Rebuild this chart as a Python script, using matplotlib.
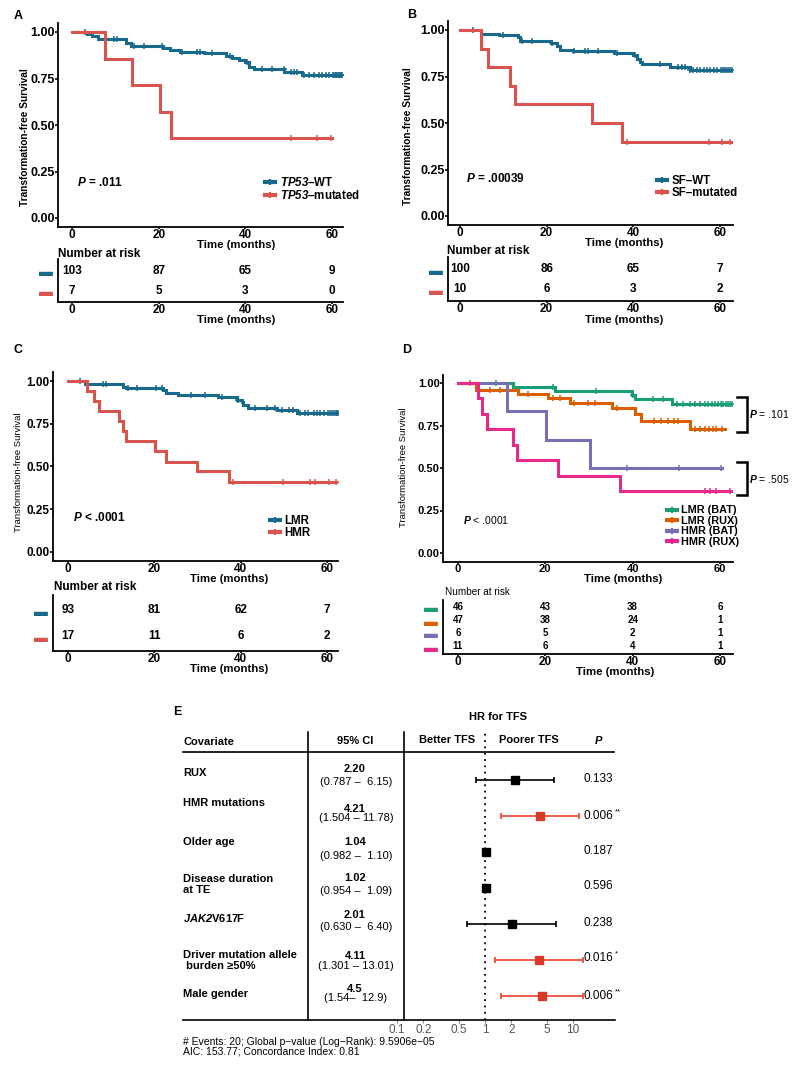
import numpy as np
import matplotlib
matplotlib.use("Agg")
import matplotlib.pyplot as plt
from matplotlib.lines import Line2D
import matplotlib.transforms as mtransforms

plt.rcParams['font.family'] = ['Liberation Sans', 'DejaVu Sans']
plt.rcParams['mathtext.fontset'] = 'custom'
plt.rcParams['mathtext.it'] = 'Liberation Sans:italic:bold'
plt.rcParams['mathtext.rm'] = 'Liberation Sans:italic:bold'
plt.rcParams['mathtext.bf'] = 'Liberation Sans:bold'

BLUE = '#19698C'
RED = '#D9534F'
D_COLS = ['#1B9E77', '#D95F02', '#7570B3', '#E7298A']

risk_times = [0, 20, 40, 60]

# ---- A: TP53 ----
a_wt_t = [0, 3.5, 4.5, 6.0, 12.5, 13.5, 21, 22.5, 25, 30.5, 35.5, 37, 38.5, 40, 40.8, 42, 49, 53]
a_wt_s = [1.0, 0.99, 0.98, 0.962, 0.94, 0.925, 0.913, 0.903, 0.894, 0.886, 0.871, 0.859, 0.85, 0.84, 0.814, 0.80, 0.787, 0.769]
a_wt_end = 62.5
a_wt_cens = [3.1, 9.6, 10.4, 14.2, 16.5, 20.8, 25.4, 28.8, 29.6, 32.3, 36.5, 40.4, 43.8, 46.2,
             48.8, 50.4, 51.2, 51.9, 53.5, 54.6, 55.8, 56.9, 57.7, 58.5, 59.2,
             60.2, 60.5, 60.8, 61, 61.3, 61.5, 61.8, 62, 62.3]
a_mut_t = [0, 7.5, 13.8, 20.2, 22.8]
a_mut_s = [1.0, 0.857, 0.714, 0.571, 0.429]
a_mut_end = 60.0
a_mut_cens = [50.4, 56.4, 59.8]
a_risk = [[103, 87, 65, 9], [7, 5, 3, 0]]

# ---- B: SF ----
b_wt_t = [0, 4.8, 9, 13.3, 13.8, 21, 22.3, 23, 26, 35.5, 40, 40.8, 41.5, 42, 48.5, 53]
b_wt_s = [1.0, 0.98, 0.972, 0.96, 0.94, 0.928, 0.915, 0.895, 0.885, 0.875, 0.865, 0.843, 0.83, 0.817, 0.803, 0.785]
b_wt_end = 63.0
b_wt_cens = [3.1, 10, 14.2, 16.5, 21.2, 26.2, 28.8, 29.6, 31.9, 36.2, 40.4, 46.2, 50.4, 51.2, 51.9,
             53.1, 53.8, 54.6, 55.4, 56.2, 57, 57.7, 58.5, 59.2,
             60.2, 60.6, 61, 61.4, 61.8, 62.3, 62.7]
b_mut_t = [0, 4.8, 6.4, 11.5, 12.8, 30.4, 37.3]
b_mut_s = [1.0, 0.9, 0.8, 0.7, 0.6, 0.5, 0.4]
b_mut_end = 62.5
b_mut_cens = [38.5, 57.5, 60.5, 62.3]
b_risk = [[100, 86, 65, 7], [10, 6, 3, 2]]

# ---- C: LMR / HMR ----
c_lmr_t = [0, 3.9, 12.8, 13.5, 22, 22.8, 25.5, 34.8, 39.1, 40.2, 40.6, 41.8, 48.4, 53]
c_lmr_s = [1.0, 0.98, 0.968, 0.957, 0.946, 0.932, 0.918, 0.904, 0.889, 0.875, 0.86, 0.845, 0.83, 0.814]
c_lmr_end = 62.7
c_lmr_cens = [2.7, 8.1, 8.9, 13.9, 15.9, 20.5, 21.7, 28.6, 31.7, 35.6, 39.5, 43.3, 46, 48, 49.5, 51.1,
              52.2, 53.8, 55, 55.7, 56.9, 57.7, 58.4, 59.2, 60.3, 60.8, 61.2, 61.6, 62, 62.3, 62.6]
c_hmr_t = [0, 4.5, 6, 7.2, 11.8, 12.8, 13.5, 20.1, 22.6, 30, 37.2]
c_hmr_s = [1.0, 0.941, 0.882, 0.824, 0.765, 0.706, 0.647, 0.588, 0.529, 0.471, 0.412]
c_hmr_end = 62.5
c_hmr_cens = [38.3, 49.9, 56.1, 57.3, 60.5, 62.2]
c_risk = [[93, 81, 62, 7], [17, 11, 6, 2]]

# ---- D: risk group x treatment ----
d_labels = ['LMR (BAT)', 'LMR (RUX)', 'HMR (BAT)', 'HMR (RUX)']
d_t = [[0, 12.6, 22.2, 39.8, 40.5, 48.9],
       [0, 4.2, 13.8, 20.6, 25.6, 35.2, 40.5, 42, 53.1],
       [0, 11.3, 20.2, 30.2],
       [0, 4.6, 5.4, 6.7, 12.6, 13.5, 22.9, 37.1]]
d_s = [[1.0, 0.978, 0.954, 0.928, 0.905, 0.877],
       [1.0, 0.957, 0.935, 0.91, 0.885, 0.855, 0.818, 0.778, 0.73],
       [1.0, 0.833, 0.667, 0.5],
       [1.0, 0.909, 0.818, 0.727, 0.636, 0.545, 0.455, 0.364]]
d_end = [63.0, 61.2, 60.4, 62.7]
d_cens = [[8.8, 21.8, 31.7, 40.1, 44.7, 47, 50.1, 51.6, 53.1, 54.3, 55.4, 56.6, 57.3, 58.1, 58.9, 59.6,
           60.3, 60.8, 61.3, 61.8, 62.3, 62.8],
          [2.7, 7.3, 9.6, 16, 21.8, 23.3, 26.5, 29.8, 31.3, 36.5, 45, 46.5, 48, 49.4, 50.3,
           54.3, 55.4, 56.5, 57.4, 58.3, 59.2, 60.5],
          [38.6, 50.5, 60.2],
          [56.6, 57.7, 59.2, 62.3]]
d_risk = [[46, 43, 38, 6], [47, 38, 24, 1], [6, 5, 2, 1], [11, 6, 4, 1]]

# ---- E: Cox model forest plot ----
covariates = ['RUX', 'HMR mutations', 'Older age', 'Disease duration\nat TE', r'$\mathit{JAK2}$V617F',
              'Driver mutation allele\n burden ≥50%', 'Male gender']
hr = [2.20, 4.21, 1.04, 1.02, 2.01, 4.11, 4.5]
ci_lo = [0.787, 1.504, 0.982, 0.954, 0.630, 1.301, 1.54]
ci_hi = [6.15, 11.78, 1.10, 1.09, 6.40, 13.01, 12.9]
hr_txt = ['2.20', '4.21', '1.04', '1.02', '2.01', '4.11', '4.5']
ci_txt = ['(0.787 –  6.15)', '(1.504 – 11.78)', '(0.982 –  1.10)', '(0.954 –  1.09)',
          '(0.630 –  6.40)', '(1.301 – 13.01)', '(1.54–  12.9)']
p_val = [0.133, 0.006, 0.187, 0.596, 0.238, 0.016, 0.006]
p_txt = ['0.133', '0.006', '0.187', '0.596', '0.238', '0.016', '0.006']
p_star = ['', '**', '', '', '', '*', '**']
hr_ticks = [0.1, 0.2, 0.5, 1, 2, 5, 10]

# per-row text nudges (pixels, relative to the point)
name_dy = [-7, -13, -10, -3.5, -6, 0.5, -2]
est_dy = [-11, -7, -10, -10, -9, -4, -7]
ci_dy = [2, 2, 4, 3, 3, 6, 2]
p_dy = [-1, 0, -1, -2, -1, -2, 0]

W, H = 800, 1067
fig = plt.figure(figsize=(8, 10.67), dpi=100)


def box(l, t, r, b):
    return fig.add_axes([l / W, 1 - b / H, (r - l) / W, (b - t) / H])


def fx(x):
    return x / W


def fy(y):
    return 1 - y / H


def km(ax, t, s, end, cens, color):
    tt = list(t) + [end]
    ss = list(s) + [s[-1]]
    ax.step(tt, ss, where='post', color=color, lw=2.2, solid_joinstyle='miter')
    idx = np.searchsorted(t, cens, side='right') - 1
    ax.plot(cens, np.array(s)[idx], ls='none', marker='+', ms=5, mew=1.1, color=color)


def style_main(ax, xlim, fs):
    ax.set_xlim(xlim)
    ax.set_ylim(-0.05, 1.05)
    for sp in ['top', 'right']:
        ax.spines[sp].set_visible(False)
    for sp in ['left', 'bottom']:
        ax.spines[sp].set_linewidth(1.3)
    ax.set_xticks(risk_times)
    ax.set_yticks([0, 0.25, 0.5, 0.75, 1.0])
    ax.set_yticklabels(['0.00', '0.25', '0.50', '0.75', '1.00'])
    ax.tick_params(axis='y', labelsize=fs, length=2, width=1.2, pad=0.5)
    ax.tick_params(axis='x', labelsize=min(fs, 8.5), length=1.5, width=1.2, pad=0)
    for lab in ax.get_xticklabels() + ax.get_yticklabels():
        lab.set_fontweight('bold')


def risk_table(l, t, r, b, xlim, rows_px, risk, colors, fs):
    ax = box(l, t, r, b)
    step = (rows_px[-1] - rows_px[0]) / max(len(rows_px) - 1, 1)
    top = -(rows_px[0] - t) / step
    bot = (len(rows_px) - 1) + (b - rows_px[-1]) / step
    ax.set_xlim(xlim)
    ax.set_ylim(bot, top)
    for sp in ['top', 'right']:
        ax.spines[sp].set_visible(False)
    for sp in ['left', 'bottom']:
        ax.spines[sp].set_linewidth(1.3)
    ax.set_xticks(risk_times)
    ax.set_yticks(range(len(risk)))
    ax.set_yticklabels(['\u25ac'] * len(risk))
    ax.tick_params(axis='y', length=0, pad=4, labelsize=10)
    ax.tick_params(axis='x', length=1.5, width=1.2, pad=0, labelsize=8.5)
    for lab, c in zip(ax.get_yticklabels(), colors):
        lab.set_color(c)
    for lab in ax.get_xticklabels():
        lab.set_fontweight('bold')
    for i, row in enumerate(risk):
        for tm, n in zip(risk_times, row):
            ax.text(tm, i, str(n), ha='center', va='center', fontsize=fs, fontweight='bold')
    return ax


def legend(ax, labels, colors, x, y, fs, spacing):
    handles = [Line2D([], [], color=c, lw=3, marker='+', ms=5, mew=1.5) for c in colors]
    ax.legend(handles, labels, loc='upper left', bbox_to_anchor=(x, y), frameon=False,
              handlelength=0.9, handletextpad=0.4, labelspacing=spacing, borderpad=0,
              borderaxespad=0, prop={'weight': 'bold', 'size': fs})


XL = 8.2  # size of the "Time (months)" labels

# ---------------- Panel A ----------------
axA = box(58, 22.7, 343, 227.3)
km(axA, a_wt_t, a_wt_s, a_wt_end, a_wt_cens, BLUE)
km(axA, a_mut_t, a_mut_s, a_mut_end, a_mut_cens, RED)
style_main(axA, (-3.23, 62.5), 9)
legend(axA, [r'$\mathit{TP53}$–WT', r'$\mathit{TP53}$–mutated'], [BLUE, RED], 0.726, 0.25, 8.3, 0.0)
fig.text(fx(14), fy(16), 'A', fontsize=9, fontweight='bold', va='center')
fig.text(fx(77), fy(183), '$P$ = .011', fontsize=8.5, fontweight='bold', va='center')
fig.text(fx(25), fy(137), 'Transformation-free Survival', rotation=90, fontsize=7.3,
         fontweight='bold', ha='center', va='center')
fig.text(fx(236), fy(245), 'Time (months)', fontsize=XL, fontweight='bold', ha='center', va='center')
fig.text(fx(58), fy(254), 'Number at risk', fontsize=8.5, fontweight='bold', va='center')
risk_table(58, 259, 343, 302, (-3.23, 62.5), [271, 291], a_risk, [BLUE, RED], 8.5)
fig.text(fx(236), fy(320), 'Time (months)', fontsize=XL, fontweight='bold', ha='center', va='center')

# ---------------- Panel B ----------------
axB = box(448, 20.7, 733, 225.3)
km(axB, b_wt_t, b_wt_s, b_wt_end, b_wt_cens, BLUE)
km(axB, b_mut_t, b_mut_s, b_mut_end, b_mut_cens, RED)
style_main(axB, (-2.77, 63.0), 9)
legend(axB, ['SF–WT', 'SF–mutated'], [BLUE, RED], 0.733, 0.245, 8.3, 0.0)
fig.text(fx(407), fy(15), 'B', fontsize=9, fontweight='bold', va='center')
fig.text(fx(466), fy(178), '$P$ = .00039', fontsize=8.5, fontweight='bold', va='center')
fig.text(fx(408), fy(136), 'Transformation-free Survival', rotation=90, fontsize=7.3,
         fontweight='bold', ha='center', va='center')
fig.text(fx(624), fy(243), 'Time (months)', fontsize=XL, fontweight='bold', ha='center', va='center')
fig.text(fx(447), fy(251), 'Number at risk', fontsize=8.5, fontweight='bold', va='center')
risk_table(448, 257, 733, 301, (-2.77, 63.0), [269, 289], b_risk, [BLUE, RED], 8.5)
fig.text(fx(624), fy(320), 'Time (months)', fontsize=XL, fontweight='bold', ha='center', va='center')

# ---------------- Panel C ----------------
axC = box(53, 372.5, 338, 560.5)
km(axC, c_lmr_t, c_lmr_s, c_lmr_end, c_lmr_cens, BLUE)
km(axC, c_hmr_t, c_hmr_s, c_hmr_end, c_hmr_cens, RED)
style_main(axC, (-3.47, 62.55), 8.5)
legend(axC, ['LMR', 'HMR'], [BLUE, RED], 0.76, 0.24, 8.3, 0.0)
fig.text(fx(13), fy(350), 'C', fontsize=9, fontweight='bold', va='center')
fig.text(fx(73), fy(517), '$P$ < .0001', fontsize=8.5, fontweight='bold', va='center')
fig.text(fx(19), fy(472), 'Transformation-free Survival', rotation=90, fontsize=6.8,
         ha='center', va='center')
fig.text(fx(229), fy(578.5), 'Time (months)', fontsize=XL, fontweight='bold', ha='center', va='center')
fig.text(fx(54), fy(587.5), 'Number at risk', fontsize=8.5, fontweight='bold', va='center')
risk_table(53, 595, 338, 651, (-3.47, 62.55), [610, 636], c_risk, [BLUE, RED], 8.5)
fig.text(fx(229), fy(669), 'Time (months)', fontsize=XL, fontweight='bold', ha='center', va='center')

# ---------------- Panel D ----------------
axD = box(443, 374.5, 733, 561.5)
for t, s, e, c, col in zip(d_t, d_s, d_end, d_cens, D_COLS):
    km(axD, t, s, e, c, col)
style_main(axD, (-3.43, 62.98), 8)
legend(axD, d_labels, D_COLS, 0.772, 0.3, 7.8, 0.05)
fig.text(fx(402), fy(350), 'D', fontsize=9, fontweight='bold', va='center')
fig.text(fx(463), fy(520), '$P$ < .0001', fontsize=7.5, va='center')
fig.text(fx(403), fy(467), 'Transformation-free Survival', rotation=90, fontsize=6.8,
         ha='center', va='center')
fig.text(fx(623), fy(579), 'Time (months)', fontsize=XL, fontweight='bold', ha='center', va='center')
fig.text(fx(445), fy(592), 'Number at risk', fontsize=7.2, va='center')
risk_table(443, 600, 733, 654, (-3.43, 62.98), [607, 620, 633, 646], d_risk, D_COLS, 7)
fig.text(fx(615), fy(672), 'Time (months)', fontsize=XL, fontweight='bold', ha='center', va='center')

# brackets comparing pairs of groups
bt = mtransforms.blended_transform_factory(axD.transAxes, axD.transData)
for (y0, y1), lab in [((0.918, 0.712), '$P$ = .101'), ((0.535, 0.341), '$P$ = .505')]:
    axD.plot([1.014, 1.048, 1.048, 1.014], [y0, y0, y1, y1], color='k', lw=1.8,
             transform=bt, clip_on=False, solid_joinstyle='miter')
    axD.text(1.056, (y0 + y1) / 2, lab, transform=bt, fontsize=7.5, va='center')

# ---------------- Panel E ----------------
axE = box(390, 732, 615, 1020)
axE.set_xscale('log')
axE.set_xlim(0.0833, 30.0)
axE.set_ylim(6.667, -1.333)
for sp in axE.spines.values():
    sp.set_visible(False)
axE.set_yticks([])
axE.set_xticks(hr_ticks)
axE.set_xticklabels([f'{v:g}' for v in hr_ticks])
axE.xaxis.set_minor_locator(matplotlib.ticker.NullLocator())
axE.tick_params(axis='x', length=2, color='#888888', labelcolor='#555555', labelsize=8.5, pad=1)
axE.axvline(1, color='k', ls=(0, (1, 2.5)), lw=1.3)

rows = np.arange(len(hr))
for i in rows:
    sig = p_val[i] < 0.05
    line_col = '#E8412C' if sig else 'k'
    box_col = '#D83A2A' if sig else 'k'
    axE.errorbar(hr[i], i, xerr=[[hr[i] - ci_lo[i]], [ci_hi[i] - hr[i]]], fmt='s', ms=6,
                 color=line_col, mfc=box_col, mec=box_col,
                 elinewidth=1.2, capsize=2.5, capthick=1.2)

tr = mtransforms.blended_transform_factory(fig.transFigure, axE.transData)
u = 1 / 36.0
for i in rows:
    axE.text(fx(183), i + name_dy[i] * u, covariates[i], transform=tr, fontsize=8, fontweight='bold',
             va='center', ha='left', linespacing=1.1)
    axE.text(fx(355), i + est_dy[i] * u, hr_txt[i], transform=tr, fontsize=8, fontweight='bold',
             va='center', ha='center')
    axE.text(fx(356), i + ci_dy[i] * u, ci_txt[i], transform=tr, fontsize=8, va='center', ha='center')
    pt = axE.text(fx(584), i + p_dy[i] * u, p_txt[i], transform=tr, fontsize=8.5, va='center', ha='left')
    if p_star[i]:
        axE.annotate(p_star[i], xy=(1, 0.85), xycoords=pt, xytext=(0.5, 0),
                     textcoords='offset points', fontsize=5.5, va='center', ha='left')

fig.text(fx(173), fy(712), 'E', fontsize=9, fontweight='bold', va='center')
fig.text(fx(498), fy(717), 'HR for TFS', fontsize=8, fontweight='bold', ha='center', va='center')
fig.text(fx(183), fy(742), 'Covariate', fontsize=8, fontweight='bold', va='center')
fig.text(fx(355), fy(741), '95% CI', fontsize=8, fontweight='bold', ha='center', va='center')
fig.text(fx(447), fy(740), 'Better TFS', fontsize=8, fontweight='bold', ha='center', va='center')
fig.text(fx(529), fy(740), 'Poorer TFS', fontsize=8, fontweight='bold', ha='center', va='center')
fig.text(fx(599), fy(740), '$P$', fontsize=8, ha='center', va='center')

for xs, ys in [((183, 614), (752, 752)), ((183, 615), (1020, 1020)),
               ((308, 308), (732, 1020)), ((404, 404), (732, 1020))]:
    fig.add_artist(Line2D([fx(xs[0]), fx(xs[1])], [fy(ys[0]), fy(ys[1])],
                          transform=fig.transFigure, color='k', lw=1.2))

fig.text(fx(183), fy(1042), '# Events: 20; Global p\u2212value (Log\u2212Rank): 9.5906e\u221205',
         fontsize=7.5, va='center')
fig.text(fx(183), fy(1052), 'AIC: 153.77; Concordance Index: 0.81', fontsize=7.5, va='center')

fig.savefig('out.png', dpi=100)
